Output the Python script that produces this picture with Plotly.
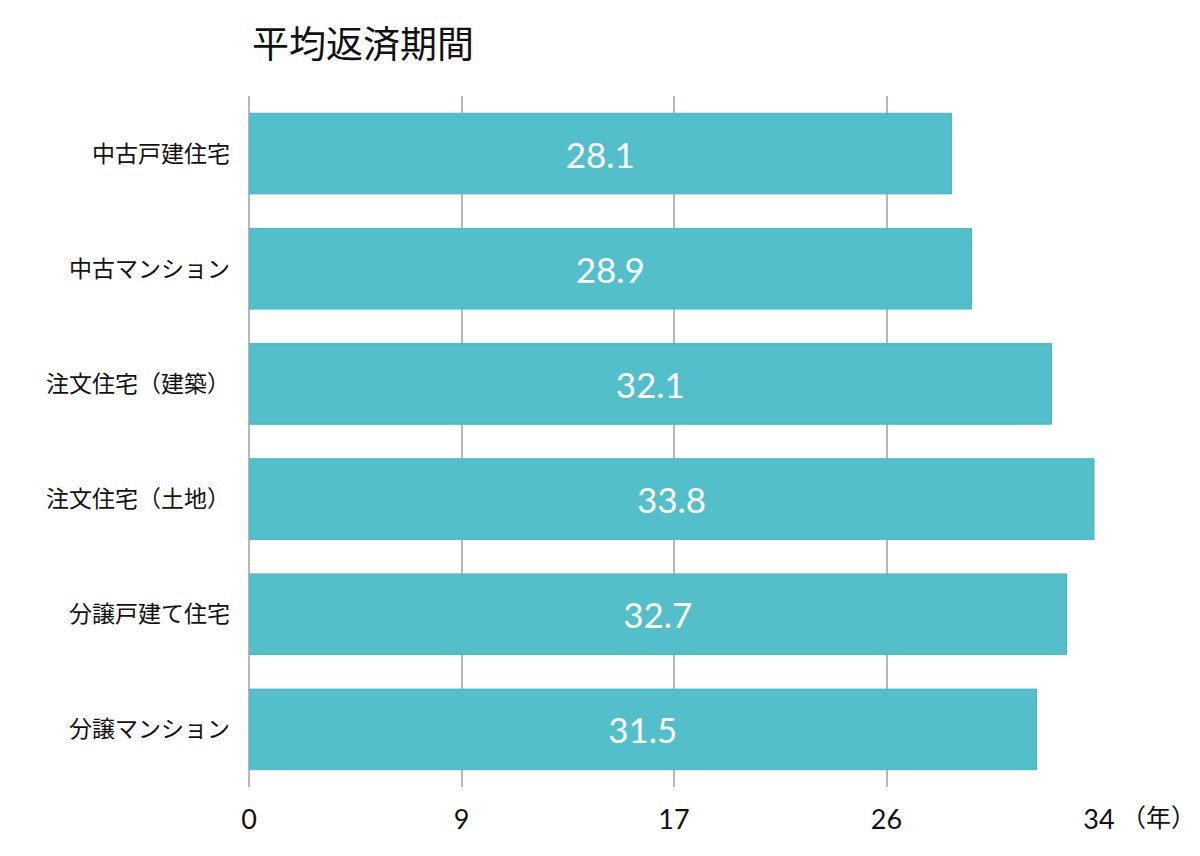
import plotly.graph_objects as go

categories = ["中古戸建住宅", "中古マンション", "注文住宅（建築）", "注文住宅（土地）", "分譲戸建て住宅", "分譲マンション"]
values = [28.1, 28.9, 32.1, 33.8, 32.7, 31.5]
tick_vals = [0, 8.5, 17, 25.5, 34]
tick_text = ["0", "9", "17", "26", "34"]

JP = "Noto Sans CJK JP"
NUM = "Lato, Noto Sans CJK JP"

fig = go.Figure(go.Bar(
    x=values, y=categories, orientation="h",
    marker=dict(color="#52bfca", line=dict(color="#45b8c3", width=1)),
    text=[f"{v:.1f}" for v in values],
    textposition="inside", insidetextanchor="middle",
    textfont=dict(family=NUM, size=35, color="white"),
    hoverinfo="skip",
))

fig.update_layout(
    width=1200, height=856,
    margin=dict(l=249, r=101, t=96, b=69),
    plot_bgcolor="white", paper_bgcolor="white",
    bargap=0.3,
    showlegend=False,
    title=dict(text="平均返済期間", x=252/1200, xanchor="left", xref="container",
               y=1-45/856, yanchor="middle", yref="container",
               font=dict(family=JP, size=37, color="#111111", weight="normal")),
)
fig.update_xaxes(
    range=[0, 34], tickvals=tick_vals, ticktext=tick_text,
    showgrid=True, gridcolor="#b8b8b8", gridwidth=2,
    zeroline=True, zerolinecolor="#b8b8b8", zerolinewidth=2,
    showline=False, ticks="", ticklabelstandoff=14,
    tickfont=dict(family=NUM, size=27, color="#111111"),
    fixedrange=True,
)
fig.update_yaxes(
    autorange="reversed", showgrid=False, showline=False, ticks="",
    ticklabelstandoff=18,
    tickfont=dict(family=JP, size=23, color="#111111"),
)
fig.add_annotation(text="（年）", x=(1158-249)/850, y=(787-816)/691, xref="paper", yref="paper",
                   xanchor="center", yanchor="middle", showarrow=False,
                   font=dict(family=JP, size=25, color="#111111"))

fig.write_html("out.html")
